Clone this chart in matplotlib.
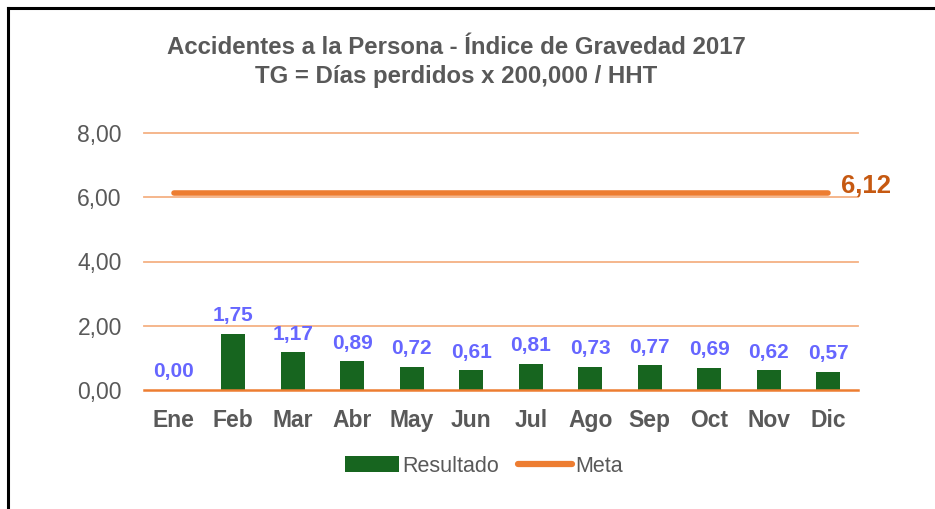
import matplotlib
matplotlib.use("Agg")
import matplotlib.pyplot as plt
from matplotlib.lines import Line2D
from matplotlib.patches import Patch
import numpy as np

plt.rcParams['font.family'] = ['Liberation Sans', 'DejaVu Sans']

months = ["Ene", "Feb", "Mar", "Abr", "May", "Jun", "Jul", "Ago", "Sep", "Oct", "Nov", "Dic"]
resultado = [0.00, 1.75, 1.17, 0.89, 0.72, 0.61, 0.81, 0.73, 0.77, 0.69, 0.62, 0.57]
meta = [6.12] * 12
yticks = [0, 2, 4, 6, 8]

W, H = 935, 509
fig = plt.figure(figsize=(W / 100, H / 100), dpi=100)
ax = fig.add_axes([144 / W, 1 - 390 / H, (858 - 144) / W, (390 - 133) / H])

x = np.arange(len(months))
gray = "#595959"
green = "#17651F"
orange = "#ED7D31"
lab_col = "#6666FF"

for y in yticks[1:]:
    ax.axhline(y, color="#F4B183", lw=1.3, zorder=0, clip_on=False)
ax.axhline(0, color=orange, lw=1.8, zorder=3, clip_on=False)

ax.bar(x, resultado, width=0.4, color=green, zorder=2)
ax.plot(x, meta, color=orange, lw=4, solid_capstyle="round", zorder=4)

for xi, v in zip(x, resultado):
    ax.annotate(f"{v:.2f}".replace(".", ","), (xi, v), xytext=(0, 13), textcoords="offset points",
                ha="center", va="center", fontsize=15, fontweight="bold", color=lab_col)

ax.annotate(f"{meta[-1]:.2f}".replace(".", ","), (x[-1], meta[-1]), xytext=(9, 5),
            textcoords="offset points", ha="left", va="center", fontsize=18.5,
            fontweight="bold", color="#C65911", annotation_clip=False)

ax.set_xlim(-0.5, len(months) - 0.5)
ax.set_ylim(0, 8)
ax.set_yticks(yticks)
ax.set_yticklabels([f"{t:.2f}".replace(".", ",") for t in yticks], fontsize=16.5, color=gray)
ax.set_xticks(x)
ax.set_xticklabels(months, fontsize=16.5, fontweight="bold", color=gray)
ax.tick_params(length=0)
ax.tick_params(axis="y", pad=16)
ax.tick_params(axis="x", pad=14)
for s in ax.spines.values():
    s.set_visible(False)

fig.text(456 / W, 1 - 48 / H, "Accidentes a la Persona - Índice de Gravedad 2017",
         ha="center", va="center", fontsize=17.3, fontweight="bold", color=gray)
fig.text(456 / W, 1 - 77 / H, "TG = Días perdidos x 200,000 / HHT",
         ha="center", va="center", fontsize=17.3, fontweight="bold", color=gray)

handles = [Patch(facecolor=green, edgecolor="none"),
           Line2D([0], [0], color=orange, lw=4.5, solid_capstyle="round")]
fig.legend(handles, ["Resultado", "Meta"], loc="center", bbox_to_anchor=(484 / W, 1 - 466 / H),
           ncol=2, frameon=False, fontsize=15.5, labelcolor=gray, handlelength=2.5,
           handletextpad=0.15, columnspacing=0.9, handleheight=0.7)

fig.add_artist(Line2D([7.5 / W, 7.5 / W], [0, 1 - 7.5 / H], color="black", lw=2.2,
                      transform=fig.transFigure))
fig.add_artist(Line2D([7.5 / W, 1], [1 - 7.5 / H, 1 - 7.5 / H], color="black", lw=2.2,
                      transform=fig.transFigure))

fig.savefig("out.png", dpi=100, facecolor="white")
